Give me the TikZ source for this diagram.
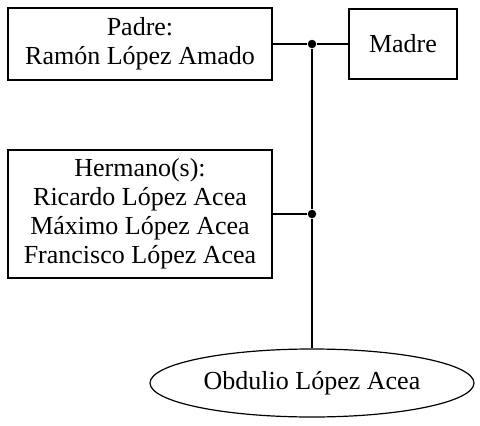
\documentclass[tikz,border=0pt]{standalone}
\usepackage{fontspec}
\setmainfont{Liberation Serif}
\usetikzlibrary{shapes.geometric}

\tikzset{
  caja/.style={draw, rectangle, align=center, inner sep=0pt},
  punto/.style={circle, fill=black, inner sep=0pt, minimum size=8.5pt},
}

\begin{document}
\begin{tikzpicture}[x=1pt, y=-1pt, font=\rmfamily\fontsize{26}{29}\selectfont, line width=1.2pt]
\useasboundingbox (0,0) rectangle (480,426);
\node[caja, minimum width=264pt, minimum height=72pt] (0) at (140,44) {Padre:\\Ramón López Amado};
\node[caja, minimum width=108pt, minimum height=70pt] (1) at (403,44) {Madre};
\node[punto] (2) at (312,44) {};
\node[caja, minimum width=264pt, minimum height=128pt] (3) at (140,214) {Hermano(s):\\Ricardo López Acea\\Máximo López Acea\\Francisco López Acea};
\node[punto] (4) at (312,214) {};
\node[draw, ellipse, minimum width=324pt, minimum height=68pt, inner sep=0pt] (5) at (312,383) {Obdulio López Acea};
\draw [-](0)--(2);
\draw [-](2)--(1);
\draw [-](2)--(4);
\draw [-](3)--(4);
\draw [-](4)--(5);
\end{tikzpicture}
\end{document}
